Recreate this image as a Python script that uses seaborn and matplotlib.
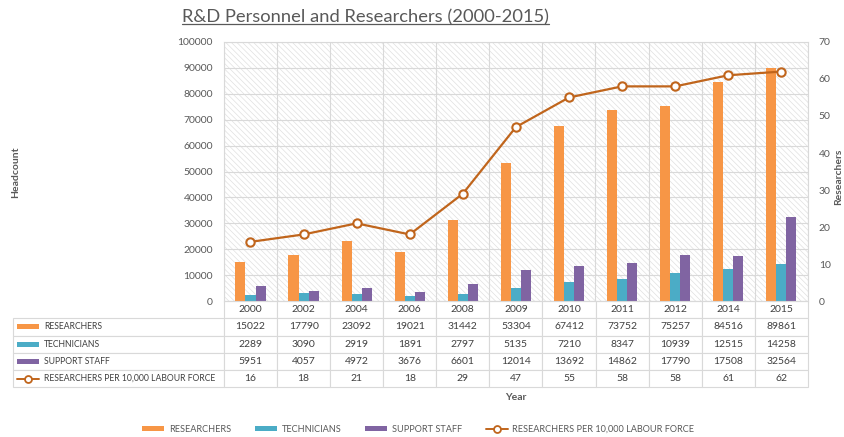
import numpy as np
import pandas as pd
import matplotlib
matplotlib.use('Agg')
import matplotlib.pyplot as plt
import seaborn as sns
from matplotlib.patches import Patch, Rectangle
from matplotlib.lines import Line2D

# data
years = ['2000', '2002', '2004', '2006', '2008', '2009', '2010', '2011', '2012', '2014', '2015']
researchers = [15022, 17790, 23092, 19021, 31442, 53304, 67412, 73752, 75257, 84516, 89861]
technicians = [2289, 3090, 2919, 1891, 2797, 5135, 7210, 8347, 10939, 12515, 14258]
support_staff = [5951, 4057, 4972, 3676, 6601, 12014, 13692, 14862, 17790, 17508, 32564]
per_10000 = [16, 18, 21, 18, 29, 47, 55, 58, 58, 61, 62]

series_names = ['RESEARCHERS', 'TECHNICIANS', 'SUPPORT STAFF']
line_name = 'RESEARCHERS PER 10,000 LABOUR FORCE'

bar_colors = ['#F79646', '#4BACC6', '#8064A2']
line_color = '#C0651C'
text_gray = '#595959'
grid_gray = '#D9D9D9'

sns.set_theme(style='white')
plt.rcParams['font.family'] = ['Lato', 'DejaVu Sans']
plt.rcParams['hatch.linewidth'] = 0.5

df = pd.DataFrame({
    'Year': years * 3,
    'Series': np.repeat(series_names, len(years)),
    'Headcount': researchers + technicians + support_staff,
})

fig = plt.figure(figsize=(8.45, 4.37), dpi=100)
ax = fig.add_axes([0.265, 0.311, 0.691, 0.593])

# hatched plot background
ax.add_patch(Rectangle((0, 0), 1, 1, transform=ax.transAxes, facecolor='white',
                       edgecolor='#E0E0E0', lw=0, hatch='\\\\\\\\\\\\', zorder=0))

sns.barplot(data=df, x='Year', y='Headcount', hue='Series', palette=bar_colors,
            width=0.57, saturation=1, edgecolor='none', legend=False, ax=ax, zorder=2)

ax.set_xlim(-0.5, len(years) - 0.5)
ax.set_ylim(0, 100000)
ax.set_yticks(range(0, 100001, 10000))
ax.set_xticks(np.arange(-0.5, len(years)), minor=True)
ax.set_xticklabels([])
ax.set_xlabel('')
ax.set_ylabel('')
ax.yaxis.grid(True, color=grid_gray, lw=0.8)
ax.xaxis.grid(True, which='minor', color=grid_gray, lw=0.8)
ax.tick_params(axis='y', length=0, labelsize=7.5, labelcolor=text_gray, pad=8)
ax.tick_params(axis='x', which='both', length=0)
for s in ax.spines.values():
    s.set_color(grid_gray)
    s.set_linewidth(0.8)

# line on secondary axis
ax2 = ax.twinx()
sns.lineplot(x=np.arange(len(years)), y=per_10000, ax=ax2, color=line_color, lw=1.6,
             marker='o', markersize=6, markerfacecolor='white',
             markeredgecolor=line_color, markeredgewidth=1.5, zorder=5)
ax2.set_ylim(0, 70)
ax2.set_yticks(range(0, 71, 10))
ax2.set_xlim(-0.5, len(years) - 0.5)
ax2.set_ylabel('')
ax2.tick_params(axis='y', length=0, labelsize=7.5, labelcolor=text_gray, pad=8)
for s in ax2.spines.values():
    s.set_visible(False)

# data table under the plot
n = len(years)
cell_text = [
    [series_names[0]] + [str(v) for v in researchers],
    [series_names[1]] + [str(v) for v in technicians],
    [series_names[2]] + [str(v) for v in support_staff],
    [line_name] + [str(v) for v in per_10000],
]
tbl_h = 0.332
tbl = ax.table(cellText=cell_text, colLabels=[''] + years,
               colWidths=[211] + [53.1] * n, cellLoc='center',
               bbox=[-0.361, -tbl_h, 1.361, tbl_h])
tbl.auto_set_font_size(False)
tbl.set_fontsize(7.5)
for (r, c), cell in tbl.get_celld().items():
    cell.set_edgecolor(grid_gray)
    cell.set_linewidth(0.8)
    cell.get_text().set_color('#404040')
    if r == 0 and c == 0:
        cell.visible_edges = ''
    if c == 0 and r > 0:
        cell.get_text().set_ha('left')
        cell.get_text().set_fontsize(6.2)
        cell.PAD = 0.148

row_h = tbl_h / 5
key_x0 = (17 - 224) / 584
key_w = 22 / 584
for i, col in enumerate(bar_colors):
    yc = -(i + 1.5) * row_h
    ax.add_patch(Rectangle((key_x0, yc - 0.0095), key_w, 0.019, transform=ax.transAxes,
                           facecolor=col, edgecolor='none', clip_on=False))
yc = -4.5 * row_h
ax.add_line(Line2D([key_x0, key_x0 + key_w], [yc, yc], transform=ax.transAxes,
                   color=line_color, lw=1.4, clip_on=False))
ax.add_line(Line2D([key_x0 + key_w / 2], [yc], transform=ax.transAxes, marker='o',
                   markersize=5, markerfacecolor='white', markeredgecolor=line_color,
                   markeredgewidth=1.3, clip_on=False))

# labels
fig.text(0.018, 0.606, 'Headcount', rotation=90, ha='center', va='center',
         fontsize=7.5, fontweight='bold', color=text_gray)
fig.text(0.993, 0.595, 'Researchers', rotation=90, ha='center', va='center',
         fontsize=7.5, fontweight='bold', color=text_gray)
fig.text(516 / 845, 1 - 397 / 437, 'Year', ha='center', va='center',
         fontsize=7.5, fontweight='bold', color=text_gray)

title = fig.text(0.433, 0.961, 'R&D Personnel and Researchers (2000-2015)',
                 ha='center', va='center', fontsize=13.2, color=text_gray)

# legend
handles = [Patch(facecolor=c, edgecolor='none') for c in bar_colors]
handles.append(Line2D([], [], color=line_color, lw=1.4, marker='o', markersize=5,
                      markerfacecolor='white', markeredgecolor=line_color,
                      markeredgewidth=1.3))
leg = fig.legend(handles, series_names + [line_name], loc='center',
                 bbox_to_anchor=(0.495, 0.018), ncol=4, frameon=False, fontsize=6.6,
                 handlelength=2.4, handleheight=0.5, columnspacing=2.6, handletextpad=0.5)
for t in leg.get_texts():
    t.set_color(text_gray)

# underline the title
fig.canvas.draw()
bb = title.get_window_extent(fig.canvas.get_renderer()).transformed(fig.transFigure.inverted())
fig.add_artist(Line2D([bb.x0, bb.x1], [bb.y0 + 0.002, bb.y0 + 0.002],
                      transform=fig.transFigure, color=text_gray, lw=0.9))

fig.savefig('out.png', dpi=100)
